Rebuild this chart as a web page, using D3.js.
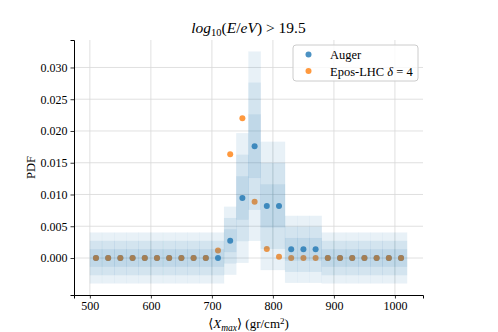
<!DOCTYPE html>
<html>
<head>
<meta charset="utf-8">
<script src="https://cdn.jsdelivr.net/npm/d3@7"></script>
<style>
  body { margin: 0; background: #fff; }
  text { font-family: "Liberation Serif", "DejaVu Serif", serif; fill: #000; }
</style>
</head>
<body>
<svg id="chart" width="498" height="332"></svg>
<script>
// bin centres (gr/cm2), 20 wide
var xmax_bins = [510, 530, 550, 570, 590, 610, 630, 650, 670, 690, 710, 730, 750,
                 770, 790, 810, 830, 850, 870, 890, 910, 930, 950, 970, 990, 1010];
var auger_pdf = [0, 0, 0, 0, 0, 0, 0, 0, 0, 0, 0, 0.00272, 0.00945,
                 0.0176, 0.0082, 0.0082, 0.00137, 0.00137, 0.00137, 0, 0, 0, 0, 0, 0, 0];
var epos_pdf = [0, 0, 0, 0, 0, 0, 0, 0, 0, 0, 0.0012, 0.01635, 0.0220,
                0.00885, 0.00142, 0.0002, 0, 0, 0, 0, 0, 0, 0, 0, 0, 0];
// band half widths around the Auger values (1, 2, 3 sigma)
var err1 = [0.00137, 0.00137, 0.00137, 0.00137, 0.00137, 0.00137, 0.00137, 0.00137, 0.00137, 0.00137, 0.00137,
            0.00178, 0.0034, 0.0050, 0.00338, 0.00338, 0.00178, 0.00178, 0.00178,
            0.00137, 0.00137, 0.00137, 0.00137, 0.00137, 0.00137, 0.00137];
var err2 = [0.0027, 0.0027, 0.0027, 0.0027, 0.0027, 0.0027, 0.0027, 0.0027, 0.0027, 0.0027, 0.0027,
            0.00357, 0.0068, 0.0100, 0.00676, 0.00676, 0.00354, 0.00354, 0.00354,
            0.0027, 0.0027, 0.0027, 0.0027, 0.0027, 0.0027, 0.0027];
var err3 = [0.0040, 0.0040, 0.0040, 0.0040, 0.0040, 0.0040, 0.0040, 0.0040, 0.0040, 0.0040, 0.0040,
            0.00535, 0.0102, 0.0149, 0.0101, 0.0101, 0.00527, 0.00527, 0.00527,
            0.0040, 0.0040, 0.0040, 0.0040, 0.0040, 0.0040, 0.0040];
var x_ticks = [500, 600, 700, 800, 900, 1000];
var y_ticks = [0, 0.005, 0.010, 0.015, 0.020, 0.025, 0.030];

draw();

function draw() {
    var svg = d3.select("#chart");
    var mLeft = 74, mRight = 423, mTop = 40, mBottom = 295;
    var half = 10;

    // matplotlib style 5% margins
    var xlo = d3.min(xmax_bins) - half, xhi = d3.max(xmax_bins) + half;
    var ylo = d3.min(auger_pdf.map(function (v, i) { return v - err3[i]; }));
    var yhi = d3.max(auger_pdf.map(function (v, i) { return v + err3[i]; }));
    var xm = (xhi - xlo) * 0.05, ym = (yhi - ylo) * 0.05;

    var x = d3.scaleLinear().domain([xlo - xm, xhi + xm]).range([mLeft, mRight]);
    var y = d3.scaleLinear().domain([ylo - ym, yhi + ym]).range([mBottom, mTop]);

    // grid
    var grid = svg.append("g");
    grid.selectAll(".gx").data(x_ticks).enter().append("line")
        .attr("x1", function (d) { return x(d); }).attr("x2", function (d) { return x(d); })
        .attr("y1", mTop).attr("y2", mBottom)
        .attr("stroke", "#d8d8d8").attr("stroke-width", 0.8);
    grid.selectAll(".gy").data(y_ticks).enter().append("line")
        .attr("y1", function (d) { return y(d); }).attr("y2", function (d) { return y(d); })
        .attr("x1", mLeft).attr("x2", mRight)
        .attr("stroke", "#d8d8d8").attr("stroke-width", 0.8);

    // points
    svg.append("g").selectAll("circle").data(xmax_bins).enter().append("circle")
        .attr("cx", function (d) { return x(d); })
        .attr("cy", function (d, i) { return y(auger_pdf[i]); })
        .attr("r", 3).attr("fill", "#1f77b4").attr("fill-opacity", 0.8);
    svg.append("g").selectAll("circle").data(xmax_bins).enter().append("circle")
        .attr("cx", function (d) { return x(d); })
        .attr("cy", function (d, i) { return y(epos_pdf[i]); })
        .attr("r", 3).attr("fill", "#ff7f0e").attr("fill-opacity", 0.8);

    // bands on top
    [err3, err2, err1].forEach(function (err) {
        svg.append("g").selectAll("rect").data(xmax_bins).enter().append("rect")
            .attr("x", function (d) { return x(d - half); })
            .attr("width", function (d) { return x(d + half) - x(d - half); })
            .attr("y", function (d, i) { return y(auger_pdf[i] + err[i]); })
            .attr("height", function (d, i) { return y(auger_pdf[i] - err[i]) - y(auger_pdf[i] + err[i]); })
            .attr("fill", "#1f77b4").attr("fill-opacity", 0.1)
            .attr("stroke", "#1f77b4").attr("stroke-opacity", 0.025).attr("stroke-width", 0.6);
    });

    // axes
    var xAxis = svg.append("g").attr("transform", "translate(0," + mBottom + ")")
        .call(d3.axisBottom(x).tickValues(x_ticks).tickSize(3.5).tickPadding(3).tickFormat(d3.format("d")));
    var yAxis = svg.append("g").attr("transform", "translate(" + mLeft + ",0)")
        .call(d3.axisLeft(y).tickValues(y_ticks).tickSize(3.5).tickPadding(3).tickFormat(d3.format(".3f")));
    [xAxis, yAxis].forEach(function (a) {
        a.select(".domain").attr("stroke", "#000").attr("stroke-width", 1);
        a.selectAll(".tick line").attr("stroke", "#000").attr("stroke-width", 0.8);
        a.selectAll("text").attr("font-size", 12).attr("font-family", "Liberation Serif");
    });

    // title
    var title = svg.append("text").attr("x", (mLeft + mRight) / 2).attr("y", 33)
        .attr("text-anchor", "middle").attr("font-size", 15.5);
    title.append("tspan").attr("font-style", "italic").text("log");
    title.append("tspan").attr("font-size", 10.5).attr("dy", 3).text("10");
    title.append("tspan").attr("dy", -3).text("(");
    title.append("tspan").attr("font-style", "italic").text("E");
    title.append("tspan").text("/");
    title.append("tspan").attr("font-style", "italic").text("eV");
    title.append("tspan").text(") > 19.5");

    // axis labels
    var xl = svg.append("text").attr("x", (mLeft + mRight) / 2).attr("y", 328)
        .attr("text-anchor", "middle").attr("font-size", 13);
    xl.append("tspan").text("\u27E8");
    xl.append("tspan").attr("font-style", "italic").text("X");
    xl.append("tspan").attr("font-style", "italic").attr("font-size", 9.5).attr("dy", 2.5).text("max");
    xl.append("tspan").attr("dy", -2.5).text("\u27E9 (gr/cm");
    xl.append("tspan").attr("font-size", 9).attr("dy", -4.5).text("2");
    xl.append("tspan").attr("dy", 4.5).text(")");

    svg.append("text").attr("transform", "translate(35," + ((mTop + mBottom) / 2) + ") rotate(-90)")
        .attr("text-anchor", "middle").attr("font-size", 12.5).text("PDF");

    // legend
    var lg = svg.append("g").attr("transform", "translate(293,45)");
    lg.append("rect").attr("width", 125).attr("height", 36).attr("rx", 3)
        .attr("fill", "#fff").attr("fill-opacity", 0.8)
        .attr("stroke", "#cccccc").attr("stroke-width", 1);
    var legend_items = [
        { color: "#1f77b4" },
        { color: "#ff7f0e" }
    ];
    lg.selectAll("circle").data(legend_items).enter().append("circle")
        .attr("cx", 15.5).attr("cy", function (d, i) { return 9.5 + i * 16.5; })
        .attr("r", 3).attr("fill", function (d) { return d.color; }).attr("fill-opacity", 0.8);
    lg.append("text").attr("x", 37).attr("y", 14).attr("font-size", 12.5).text("Auger");
    var t2 = lg.append("text").attr("x", 37).attr("y", 30.5).attr("font-size", 12.5);
    t2.append("tspan").text("Epos-LHC ");
    t2.append("tspan").attr("font-style", "italic").text("\u03B4");
    t2.append("tspan").text(" = 4");
}
</script>
</body>
</html>
